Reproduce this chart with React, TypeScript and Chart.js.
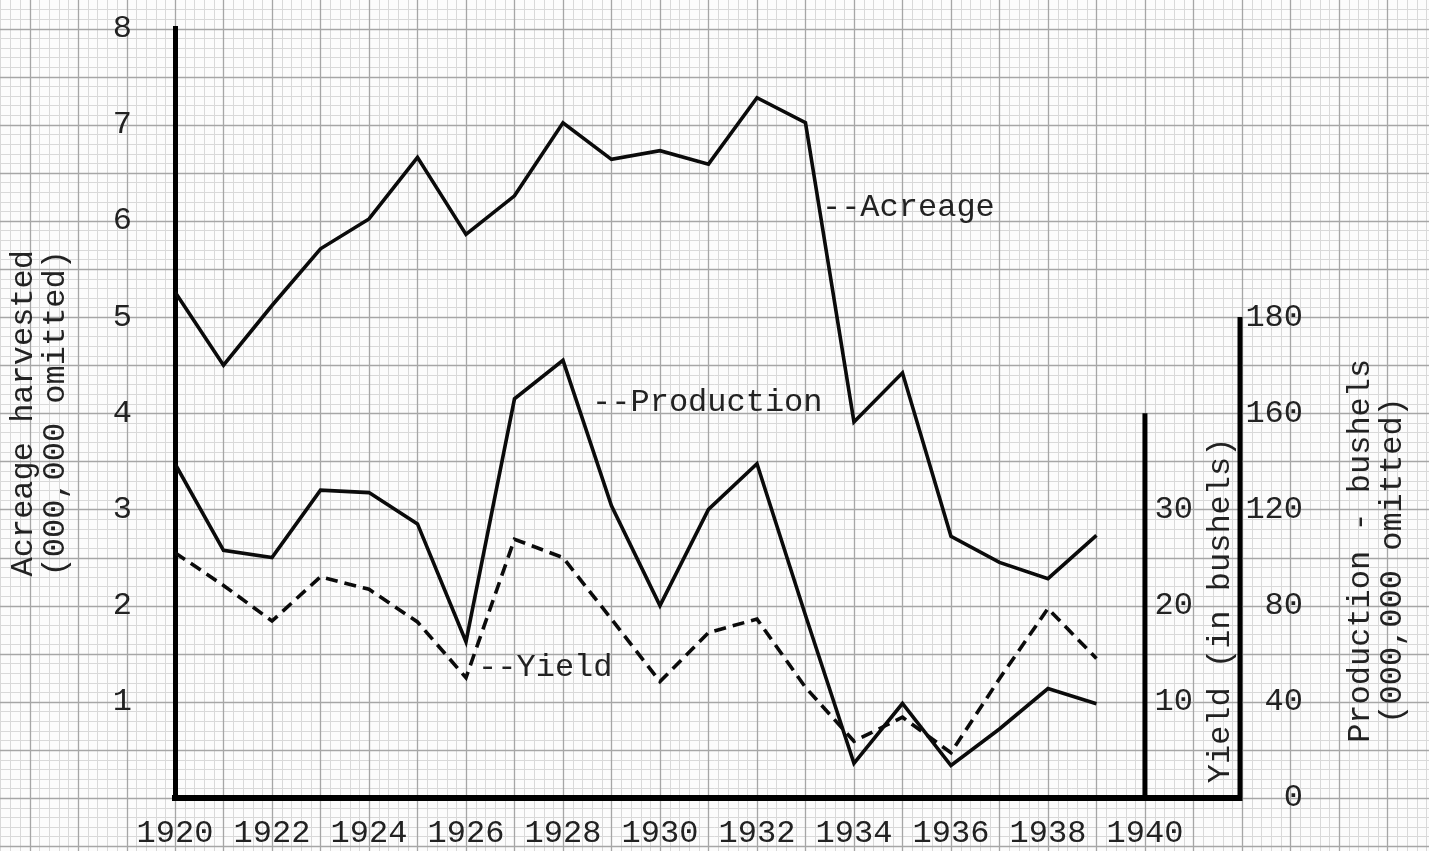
import React, { useEffect, useRef } from 'react';
import { Chart, registerables } from 'chart.js';

Chart.register(...registerables);

// ---- data ----
const YEARS = [1920, 1921, 1922, 1923, 1924, 1925, 1926, 1927, 1928, 1929, 1930, 1931, 1932, 1933, 1934, 1935, 1936, 1937, 1938, 1939];
// acreage harvested, millions of acres
const ACREAGE = [5.26, 4.5, 5.12, 5.71, 6.02, 6.66, 5.86, 6.26, 7.02, 6.64, 6.73, 6.59, 7.28, 7.02, 3.91, 4.42, 2.72, 2.45, 2.28, 2.73];
// production, millions of bushels
const PRODUCTION = [139, 103, 100, 128, 127, 114, 65, 166, 182, 121.5, 80, 120, 139, 76, 14.4, 39.3, 13.5, 28.7, 45.5, 39.2];
// yield, bushels per acre
const YIELD = [25.5, 22.1, 18.4, 23.0, 21.7, 18.3, 12.5, 26.9, 25.0, 18.6, 12.1, 17.2, 18.6, 11.5, 5.9, 8.4, 4.7, 12.4, 19.7, 14.5];

const YEAR_TICKS = [1920, 1922, 1924, 1926, 1928, 1930, 1932, 1934, 1936, 1938, 1940];
const ACREAGE_TICKS = [1, 2, 3, 4, 5, 6, 7, 8];
const YIELD_TICKS = [10, 20, 30];
const PRODUCTION_TICK_VALUES = [0, 40, 80, 120, 160, 200];
const PRODUCTION_TICK_LABELS = ['0', '40', '80', '120', '160', '180'];

const ACREAGE_TITLE = ['Acreage harvested', '(000,000 omitted)'];
const YIELD_TITLE = 'Yield (in bushels)';
const PRODUCTION_TITLE = ['Production - bushels', '(000,000 omitted)'];
const SERIES_NOTES = ['--Acreage', '--Production', '--Yield'];

const FONT = "'Liberation Mono', 'DejaVu Sans Mono', monospace";
const INK = '#222222';
const FONT_SIZE = 32;

function drawRotated(ctx: CanvasRenderingContext2D, text: string, x: number, y: number) {
  ctx.save();
  ctx.translate(x, y);
  ctx.rotate(-Math.PI / 2);
  ctx.textAlign = 'center';
  ctx.textBaseline = 'middle';
  ctx.fillText(text, 0, 0);
  ctx.restore();
}

// vertical scales: keep their label overhang from shrinking the plot area
const noVPad = (s: any) => {
  s.paddingTop = 0;
  s.paddingBottom = 0;
};

const graphPaper = {
  id: 'graphPaper',
  beforeDraw(chart: any) {
    const { ctx, width, height, scales } = chart;
    const xs = scales.x;
    const ys = scales.y;
    ctx.save();
    ctx.fillStyle = '#fcfcfc';
    ctx.fillRect(0, 0, width, height);
    const x0 = xs.getPixelForValue(1920);
    const xStep = xs.getPixelForValue(1920.2) - x0;
    const y0 = ys.getPixelForValue(0);
    const yStep = y0 - ys.getPixelForValue(0.1);
    const pass = (major: boolean) => {
      ctx.beginPath();
      for (let k = Math.ceil(-x0 / xStep); x0 + k * xStep <= width; k++) {
        if ((k % 5 === 0) !== major) continue;
        const px = Math.round(x0 + k * xStep) + 0.5;
        ctx.moveTo(px, 0);
        ctx.lineTo(px, height);
      }
      for (let k = Math.ceil((y0 - height) / yStep); y0 - k * yStep >= 0; k++) {
        if ((k % 5 === 0) !== major) continue;
        const py = Math.round(y0 - k * yStep) + 0.5;
        ctx.moveTo(0, py);
        ctx.lineTo(width, py);
      }
      ctx.strokeStyle = major ? '#a6a6a6' : '#d9d9d9';
      ctx.lineWidth = major ? 1.3 : 1;
      ctx.stroke();
    };
    pass(false);
    pass(true);
    ctx.restore();
  },
  beforeDatasetsDraw(chart: any) {
    const { ctx, scales } = chart;
    const xs = scales.x;
    const yy = scales.yYield;
    const yp = scales.yProd;
    ctx.save();
    ctx.strokeStyle = '#000';
    ctx.lineWidth = 5;
    ctx.lineCap = 'butt';
    const xYield = xs.getPixelForValue(1940);
    ctx.beginPath();
    ctx.moveTo(xYield, yy.getPixelForValue(0));
    ctx.lineTo(xYield, yy.getPixelForValue(40));
    const xProd = chart.chartArea.right;
    ctx.moveTo(xProd, yp.getPixelForValue(0) + 3);
    ctx.lineTo(xProd, yp.getPixelForValue(200));
    ctx.stroke();
    ctx.restore();
  },
  afterDraw(chart: any) {
    const { ctx, scales, chartArea } = chart;
    const xs = scales.x;
    const ys = scales.y;
    ctx.save();
    ctx.fillStyle = INK;
    ctx.font = `${FONT_SIZE}px ${FONT}`;
    // yield axis title
    drawRotated(ctx, YIELD_TITLE, xs.getPixelForValue(1941.55), ys.getPixelForValue(1.95));
    // production axis title
    drawRotated(ctx, PRODUCTION_TITLE[0], chartArea.right + 121, ys.getPixelForValue(2.57));
    drawRotated(ctx, PRODUCTION_TITLE[1], chartArea.right + 153, ys.getPixelForValue(2.47));
    // series notes
    ctx.textAlign = 'left';
    ctx.textBaseline = 'middle';
    const notes: [string, number, number][] = [
      [SERIES_NOTES[0], 1933.34, 6.14],
      [SERIES_NOTES[1], 1928.6, 4.11],
      [SERIES_NOTES[2], 1926.25, 1.36],
    ];
    notes.forEach(([t, xv, yv]) => {
      ctx.fillText(t, xs.getPixelForValue(xv), ys.getPixelForValue(yv));
    });
    ctx.restore();
  },
};

export default function App() {
  const canvasRef = useRef<HTMLCanvasElement | null>(null);

  useEffect(() => {
    const canvas = canvasRef.current;
    if (!canvas) return;
    const toPoints = (vals: number[]) => YEARS.map((yr, i) => ({ x: yr, y: vals[i] }));
    const lineStyle = {
      borderColor: '#0b0b0b',
      borderWidth: 3.6,
      pointRadius: 0,
      tension: 0,
      fill: false,
      borderJoinStyle: 'miter' as const,
    };
    const tickFont = { family: FONT, size: FONT_SIZE };

    const chart = new Chart(canvas, {
      type: 'line',
      data: {
        datasets: [
          { label: 'Acreage', data: toPoints(ACREAGE), yAxisID: 'y', ...lineStyle },
          { label: 'Production', data: toPoints(PRODUCTION), yAxisID: 'yProd', ...lineStyle },
          { label: 'Yield', data: toPoints(YIELD), yAxisID: 'yYield', ...lineStyle, borderDash: [12, 7] },
        ],
      },
      options: {
        animation: false,
        responsive: false,
        devicePixelRatio: 1,
        layout: { padding: { top: 28.5, right: 126, bottom: 0, left: 0 } },
        plugins: { legend: { display: false }, tooltip: { enabled: false }, title: { display: false } },
        scales: {
          x: {
            type: 'linear',
            position: 'bottom',
            min: 1920,
            max: 1941.96,
            afterBuildTicks: (s: any) => { s.ticks = YEAR_TICKS.map((v) => ({ value: v })); },
            afterFit: (s: any) => { s.height = 53; },
            grid: { display: false, drawTicks: false },
            border: { display: true, color: '#000', width: 6 },
            ticks: { font: tickFont, color: INK, padding: 16, maxRotation: 0, autoSkip: false, callback: (v: any) => String(v) },
          },
          y: {
            type: 'linear',
            position: 'left',
            min: 0,
            max: 8,
            afterBuildTicks: (s: any) => { s.ticks = ACREAGE_TICKS.map((v) => ({ value: v })); },
            afterFit: (s: any) => { s.width = 175; noVPad(s); },
            grid: { display: false, drawTicks: false },
            border: { display: true, color: '#000', width: 5 },
            ticks: { font: tickFont, color: INK, padding: 43, callback: (v: any) => String(v) },
            title: {
              display: true,
              text: ACREAGE_TITLE,
              font: { family: FONT, size: FONT_SIZE, lineHeight: 1 },
              color: INK,
              padding: { top: 8, bottom: 0 },
            },
          },
          yProd: {
            axis: 'y',
            type: 'linear',
            position: 'right',
            min: 0,
            max: 320,
            afterBuildTicks: (s: any) => { s.ticks = PRODUCTION_TICK_VALUES.map((v) => ({ value: v })); },
            afterFit: (s: any) => { s.width = 63; noVPad(s); },
            grid: { display: false, drawTicks: false },
            border: { display: false },
            ticks: { font: tickFont, color: INK, padding: 6, crossAlign: 'far', callback: (_v: any, i: number) => PRODUCTION_TICK_LABELS[i] },
          },
          yYield: {
            axis: 'y',
            type: 'linear',
            position: { x: 1940.99 },
            min: 0,
            max: 80,
            afterBuildTicks: (s: any) => { s.ticks = YIELD_TICKS.map((v) => ({ value: v })); },
            afterFit: (s: any) => { noVPad(s); },
            grid: { display: false, drawTicks: false },
            border: { display: false },
            ticks: { font: tickFont, color: INK, padding: 0, callback: (v: any) => String(v) },
          },
        },
      } as any,
      plugins: [graphPaper],
    });

    return () => chart.destroy();
  }, []);

  return (
    <div style={{ position: 'fixed', left: 0, top: 0, width: 1429, height: 851, background: '#fcfcfc' }}>
      <canvas ref={canvasRef} width={1429} height={851} style={{ display: 'block' }} />
    </div>
  );
}
